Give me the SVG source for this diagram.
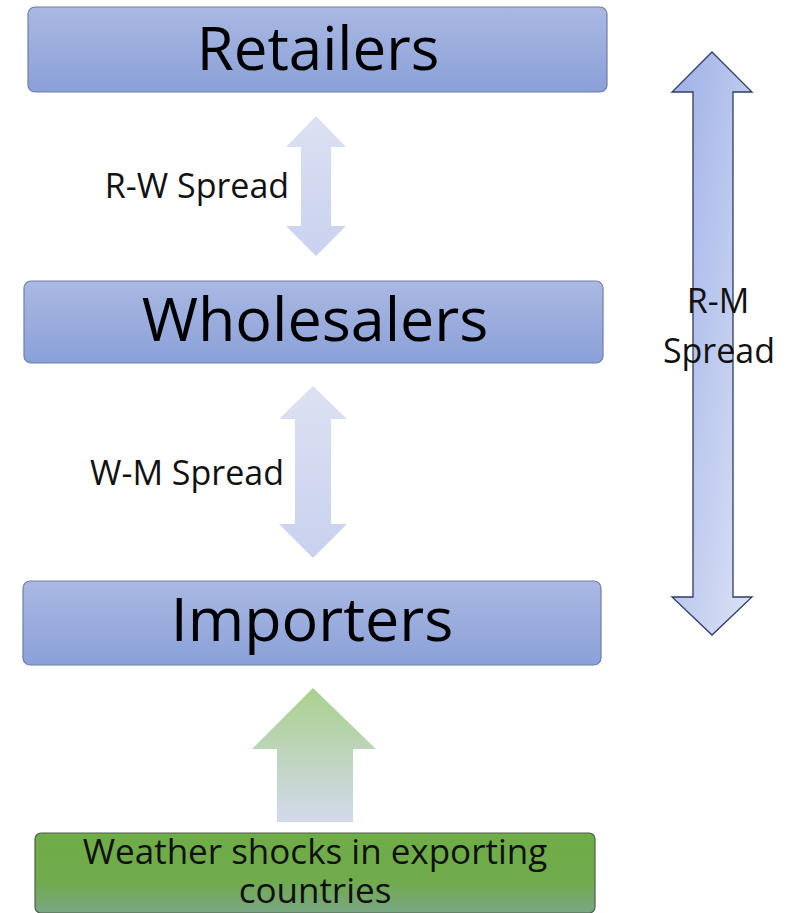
<svg xmlns="http://www.w3.org/2000/svg" width="788" height="913" viewBox="0 0 788 913">
<defs>
<linearGradient id="boxg" x1="0" y1="0" x2="0" y2="1">
<stop offset="0" stop-color="#aab9e2"/>
<stop offset="1" stop-color="#8aa0d9"/>
</linearGradient>
<linearGradient id="greeng" x1="0" y1="0" x2="0" y2="1">
<stop offset="0" stop-color="#6fad47"/>
<stop offset="0.6" stop-color="#70ab4c"/>
<stop offset="1" stop-color="#7aa684"/>
</linearGradient>
<linearGradient id="lightg" x1="0" y1="0" x2="0" y2="1">
<stop offset="0" stop-color="#dce1f2"/>
<stop offset="1" stop-color="#c9d1ee"/>
</linearGradient>
<linearGradient id="bigg" x1="0" y1="0" x2="1" y2="1">
<stop offset="0" stop-color="#9cafe6"/>
<stop offset="1" stop-color="#dde3f6"/>
</linearGradient>
<linearGradient id="upg" x1="0" y1="0" x2="0" y2="1">
<stop offset="0" stop-color="#a9d18e"/>
<stop offset="1" stop-color="#d3d9ec"/>
</linearGradient>
</defs>
<style>
.box{fill:url(#boxg);stroke:#6f7fa8;stroke-width:1.2}
.big{font-family:"Open Sans","Liberation Sans",sans-serif;font-size:61px;fill:#000;text-anchor:middle}
.lbl{font-family:"Open Sans","Liberation Sans",sans-serif;font-size:34px;fill:#111;text-anchor:middle}
.lt{fill:url(#lightg)}
</style>
<rect width="788" height="913" fill="#fff"/>
<g id="connectors">
<path class="lt" d="M316,116 L346,147 L331,147 L331,226 L346,226 L316,256 L286,226 L301,226 L301,147 L286,147 Z"/>
<path class="lt" d="M313,386 L347,419 L331,419 L331,524 L347,524 L313,558 L279,524 L295,524 L295,419 L279,419 Z"/>
<path fill="url(#bigg)" stroke="#2e3b66" stroke-width="1.3" d="M712,52 L752,92 L733,92 L733,597 L752,597 L712,635 L672,597 L693,597 L693,92 L672,92 Z"/>
<path fill="url(#upg)" d="M313,688 L376,749 L353,749 L353,822 L277,822 L277,749 L252,749 Z"/>
</g>
<g id="lbl-rw"><text class="lbl" x="197" y="198">R-W Spread</text></g>
<g id="lbl-wm"><text class="lbl" x="187" y="485">W-M Spread</text></g>
<g id="lbl-rm"><text class="lbl" x="718" y="313"><tspan x="718" y="313">R-M</tspan><tspan x="719" y="363">Spread</tspan></text></g>
<g id="retailers"><rect class="box" x="28" y="7" width="579" height="85" rx="7"/><text class="big" x="318" y="70" style="font-size:60px">Retailers</text></g>
<g id="wholesalers"><rect class="box" x="24" y="281" width="579" height="82" rx="7"/><text class="big" x="315" y="341">Wholesalers</text></g>
<g id="importers"><rect class="box" x="23" y="581" width="578" height="84" rx="7"/><text class="big" x="312" y="641">Importers</text></g>
<g id="weather"><rect x="35" y="833" width="560" height="80" rx="6" fill="url(#greeng)" stroke="#4f5f4a" stroke-width="1.2"/><text class="lbl" style="font-size:35px"><tspan x="315" y="864">Weather shocks in exporting</tspan><tspan x="315" y="903">countries</tspan></text></g>
</svg>
